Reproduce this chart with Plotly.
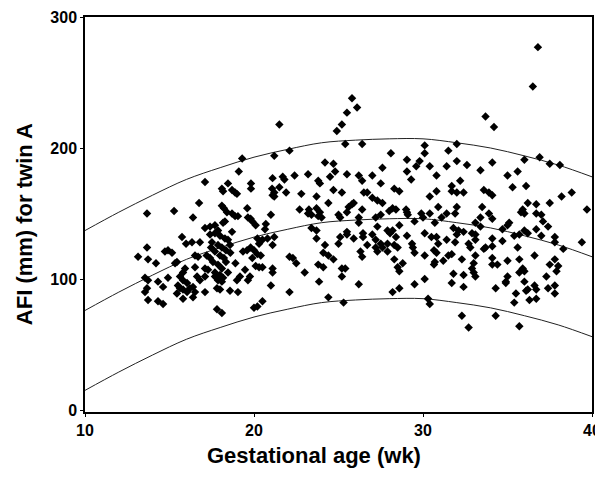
import plotly.graph_objects as go

# gestational age (weeks) and AFI (mm) for twin A
ga_wk = [
    16.75, 13.67, 15.27, 16.39, 18.1, 18.22, 18.4, 18.7, 18.88, 19.05, 19.64, 18.28, 18.17, 17.1, 17.4, 17.69,
    17.87, 15.74, 15.98, 16.33, 16.8, 13.67, 14.73, 14.91, 15.15, 13.14, 13.73, 14.2, 15.33, 15.44, 16.51, 16.69,
    19.35, 19.59, 15.92, 15.8, 16.51, 17.1, 17.28, 19.47, 13.55, 13.73, 14.32, 14.91, 15.62, 15.8, 16.04, 16.63,
    16.8, 17.1, 18.99, 19.17, 19.64, 19.76, 17.69, 17.87, 18.1, 18.17, 13.67, 13.55, 14.62, 15.5, 15.62, 15.8,
    16.04, 16.21, 16.39, 16.51, 17.1, 17.81, 17.99, 18.58, 19.05, 15.44, 15.8, 16.39, 13.73, 14.32, 14.62, 17.81,
    18.1, 20.0, 17.4, 17.69, 17.99, 18.28, 18.46, 17.51, 17.87, 18.1, 18.34, 18.58, 17.69, 17.99, 18.22, 17.4,
    17.57, 17.87, 18.1, 18.34, 18.46, 17.69, 17.99, 17.46, 18.7, 18.6, 17.2, 18.9,
    19.3, 19.1, 17.1, 18.46, 18.1, 18.17, 18.7, 18.88, 18.99, 19.82, 19.82, 21.5, 24.9, 21.2, 22.1, 24.2,
    24.7, 24.8, 24.5, 21.1, 21.7, 21.8, 22.4, 23.2, 23.8, 23.9, 21.07, 21.2, 21.5, 21.9, 22.8, 23.7,
    24.4, 24.7, 19.6, 22.7,
    36.8, 36.5, 33.7, 34.2, 25.8, 25.5, 26.1, 25.2, 25.4, 26.4, 30.1, 32.0, 28.1, 30.1, 31.5, 36.9,
    37.5, 38.1, 36.0, 34.1, 29.05, 29.8, 29.6, 30.4, 31.4, 32.0, 32.6, 33.4, 27.6, 25.5, 26.2, 26.4,
    27.0, 27.5, 29.05, 29.3, 30.8, 32.2, 31.7, 31.7, 35.0, 35.6, 36.1, 35.3, 25.2, 26.5, 26.7, 27.0,
    27.3, 27.6, 28.3, 28.6, 30.4, 30.8, 32.0, 32.4, 33.6, 33.9, 34.1, 25.8, 25.9, 28.2, 29.0, 30.9,
    32.0, 33.5, 36.2, 36.7, 37.5, 38.2, 38.8, 39.7,
    35.8, 35.9, 36.0, 36.7, 37.0, 37.1, 37.4, 36.7, 33.4, 34.1, 33.9, 33.4, 34.7, 35.0, 35.1, 35.4,
    35.7, 36.0, 36.2, 37.0, 37.8, 37.8, 38.3, 39.4, 34.1, 34.7, 34.1, 33.7, 33.6, 35.6, 34.1, 34.1,
    34.4, 35.0, 35.7, 36.6, 37.5, 37.8, 38.0, 37.9, 35.9, 36.0, 35.7, 35.0, 34.9, 34.9, 36.0, 37.3,
    34.3, 36.1, 36.2, 36.6, 36.7, 37.4, 37.8, 35.5, 37.8, 36.3, 36.7, 35.4, 34.3, 35.7,
    28.0, 28.4, 29.05, 29.1, 29.9, 30.4, 27.2, 27.5, 29.5, 30.0, 30.7, 31.1, 31.4, 31.9, 33.1, 27.3,
    28.05, 27.9, 28.2, 28.6, 29.05, 30.1, 30.5, 30.8, 31.8, 32.1, 32.0, 32.4, 32.9, 33.1, 31.4, 31.9,
    30.9, 32.7, 32.8, 33.1, 27.5, 27.6, 27.9, 27.2, 27.3, 27.9, 28.4, 28.3, 28.5, 29.35, 29.4, 30.65,
    30.8, 29.5, 30.1, 31.5, 31.7, 32.3, 33.1, 33.0, 28.3, 28.8, 28.5, 28.6, 30.7, 30.65, 31.2, 31.8,
    32.4, 32.9, 33.0, 33.1, 30.1, 29.5, 31.7, 32.4, 28.6, 28.2, 30.3, 30.4, 32.3, 32.7,
    21.1, 21.2, 25.6, 25.5, 23.25, 23.7, 23.9, 23.8, 23.4, 23.2, 24.0, 26.4, 25.0, 25.1, 26.2, 26.2,
    19.8, 19.9, 20.1, 21.0, 20.7, 20.65, 23.4, 23.7, 23.7, 25.1, 25.0, 25.5, 25.5, 25.9, 26.45, 26.45,
    27.0, 27.2, 26.7, 20.2, 20.3, 20.5, 20.8, 21.2, 21.1, 19.8, 20.0, 19.9, 20.2, 20.4, 24.2, 24.1,
    24.4, 24.7, 26.3, 26.4, 22.1, 22.3, 22.5, 20.1, 20.3, 20.5, 21.1, 21.1, 23.8, 24.1, 23.0, 25.2,
    25.4, 25.2, 23.85, 26.2, 21.0, 22.1, 24.4, 25.3, 20.5, 20.2,
]
afi_mm = [
    158, 150, 152, 147, 156, 154, 151, 150, 148, 148, 147, 144, 143, 139, 140, 141,
    137, 132, 127, 128, 128, 124, 121, 122, 120, 117, 115, 112, 112, 113, 118, 117,
    121, 122, 108, 105, 109, 108, 107, 107, 101, 99, 98, 101, 102, 99, 97, 102,
    99, 102, 99, 102, 99, 102, 102, 99, 98, 101, 93, 90, 94, 95, 93, 92,
    90, 93, 94, 90, 90, 93, 92, 91, 90, 89, 85, 86, 84, 83, 81, 77,
    74, 78, 134, 135, 133, 131, 130, 128, 126, 124, 122, 126, 121, 118, 116, 116,
    113, 111, 108, 113, 105, 105, 103, 124, 136, 120, 118, 112,
    192, 182, 174, 173, 169, 167, 168, 166, 165, 173, 169, 218, 213, 194, 198, 189,
    188, 182, 178, 177, 178, 176, 179, 180, 175, 173, 169, 166, 170, 166, 165, 163,
    158, 168, 154, 153,
    277, 247, 224, 216, 238, 227, 231, 218, 203, 203, 202, 203, 196, 196, 198, 193,
    188, 187, 191, 189, 191, 190, 186, 186, 186, 190, 187, 183, 185, 180, 179, 175,
    179, 173, 182, 176, 179, 175, 171, 167, 179, 182, 171, 170, 166, 166, 166, 162,
    160, 158, 169, 167, 163, 167, 166, 166, 168, 166, 164, 157, 158, 154, 153, 155,
    155, 155, 158, 157, 158, 163, 166, 153,
    151, 153, 150, 150, 149, 144, 140, 138, 147, 146, 150, 140, 138, 141, 143, 133,
    134, 137, 135, 133, 132, 128, 123, 128, 131, 129, 125, 124, 123, 124, 116, 111,
    111, 114, 115, 118, 111, 115, 110, 106, 108, 106, 105, 102, 98, 97, 98, 102,
    93, 91, 92, 95, 92, 93, 95, 89, 89, 84, 85, 82, 72, 64,
    152, 153, 151, 149, 150, 150, 147, 149, 144, 147, 143, 147, 150, 150, 143, 140,
    135, 137, 137, 141, 133, 135, 132, 132, 139, 137, 134, 136, 135, 134, 130, 128,
    127, 127, 124, 130, 127, 124, 127, 124, 121, 121, 132, 126, 124, 127, 124, 122,
    120, 120, 118, 118, 119, 115, 118, 112, 115, 112, 109, 106, 113, 111, 114, 104,
    103, 108, 105, 102, 100, 96, 97, 94, 93, 90, 85, 81, 72, 63,
    164, 163, 155, 151, 153, 154, 151, 148, 149, 150, 147, 153, 149, 147, 147, 143,
    146, 144, 141, 149, 142, 138, 139, 137, 131, 132, 127, 136, 134, 131, 135, 132,
    134, 130, 126, 131, 127, 130, 131, 132, 126, 124, 122, 116, 119, 118, 126, 120,
    118, 115, 121, 117, 117, 116, 112, 110, 109, 109, 108, 105, 111, 109, 105, 108,
    108, 102, 98, 96, 95, 90, 86, 82, 83, 79,
]

# fitted mean and +/- limits, read at 2-week steps
curve_wk = [10, 12, 14, 16, 18, 20, 22, 24, 26, 28, 30, 32, 34, 36, 38, 40]
mean_mm = [76, 90, 103, 115, 124, 132, 138, 143, 145, 146, 146, 143, 139, 133, 126, 117]
upper_mm = [137, 151, 164, 176, 185, 193, 199, 204, 206, 207, 207, 204, 200, 194, 187, 178]
lower_mm = [15, 29, 42, 54, 63, 71, 77, 82, 84, 85, 85, 82, 78, 72, 65, 56]

fig = go.Figure()

# reference curves
for ys in [upper_mm, mean_mm, lower_mm]:
    fig.add_trace(go.Scatter(x=curve_wk, y=ys, mode='lines', line=dict(color='#222222', width=1, shape='spline'),
                             showlegend=False, hoverinfo='skip'))

# observations
fig.add_trace(go.Scatter(x=ga_wk, y=afi_mm, mode='markers', showlegend=False,
                         marker=dict(symbol='diamond', size=6.5, color='black')))

tick_font = dict(family='Arial, Liberation Sans, sans-serif', size=16, color='black', weight='bold')
title_font = dict(family='Arial, Liberation Sans, sans-serif', size=22, color='black', weight='bold')

fig.update_xaxes(range=[10, 40], tickvals=[10, 20, 30, 40], showline=True, mirror=True, linecolor='black',
                 linewidth=1.5, ticks='outside', ticklen=3, tickcolor='black', showgrid=False, zeroline=False,
                 automargin=False, tickfont=tick_font)
fig.update_yaxes(range=[-1.5, 300], tickvals=[0, 100, 200, 300], showline=True, mirror=True, linecolor='black',
                 linewidth=1.5, ticks='outside', ticklen=3, tickcolor='black', showgrid=False, zeroline=False,
                 automargin=False, tickfont=tick_font)

# axis titles sit a little off-centre in the original, so place them as annotations
fig.add_annotation(text='Gestational age (wk)', x=0.452, y=-0.111, xref='paper', yref='paper',
                   xanchor='center', yanchor='middle', showarrow=False, font=title_font)
fig.add_annotation(text='AFI (mm) for twin A', x=-0.118, y=0.476, xref='paper', yref='paper', textangle=-90,
                   xanchor='center', yanchor='middle', showarrow=False, font=title_font)

# page body adds an 8px offset, so the figure is sized to fit the window after it
fig.update_layout(width=595, height=480, margin=dict(l=77, r=11, t=9, b=76),
                  plot_bgcolor='white', paper_bgcolor='white')

fig.write_html("out.html")
